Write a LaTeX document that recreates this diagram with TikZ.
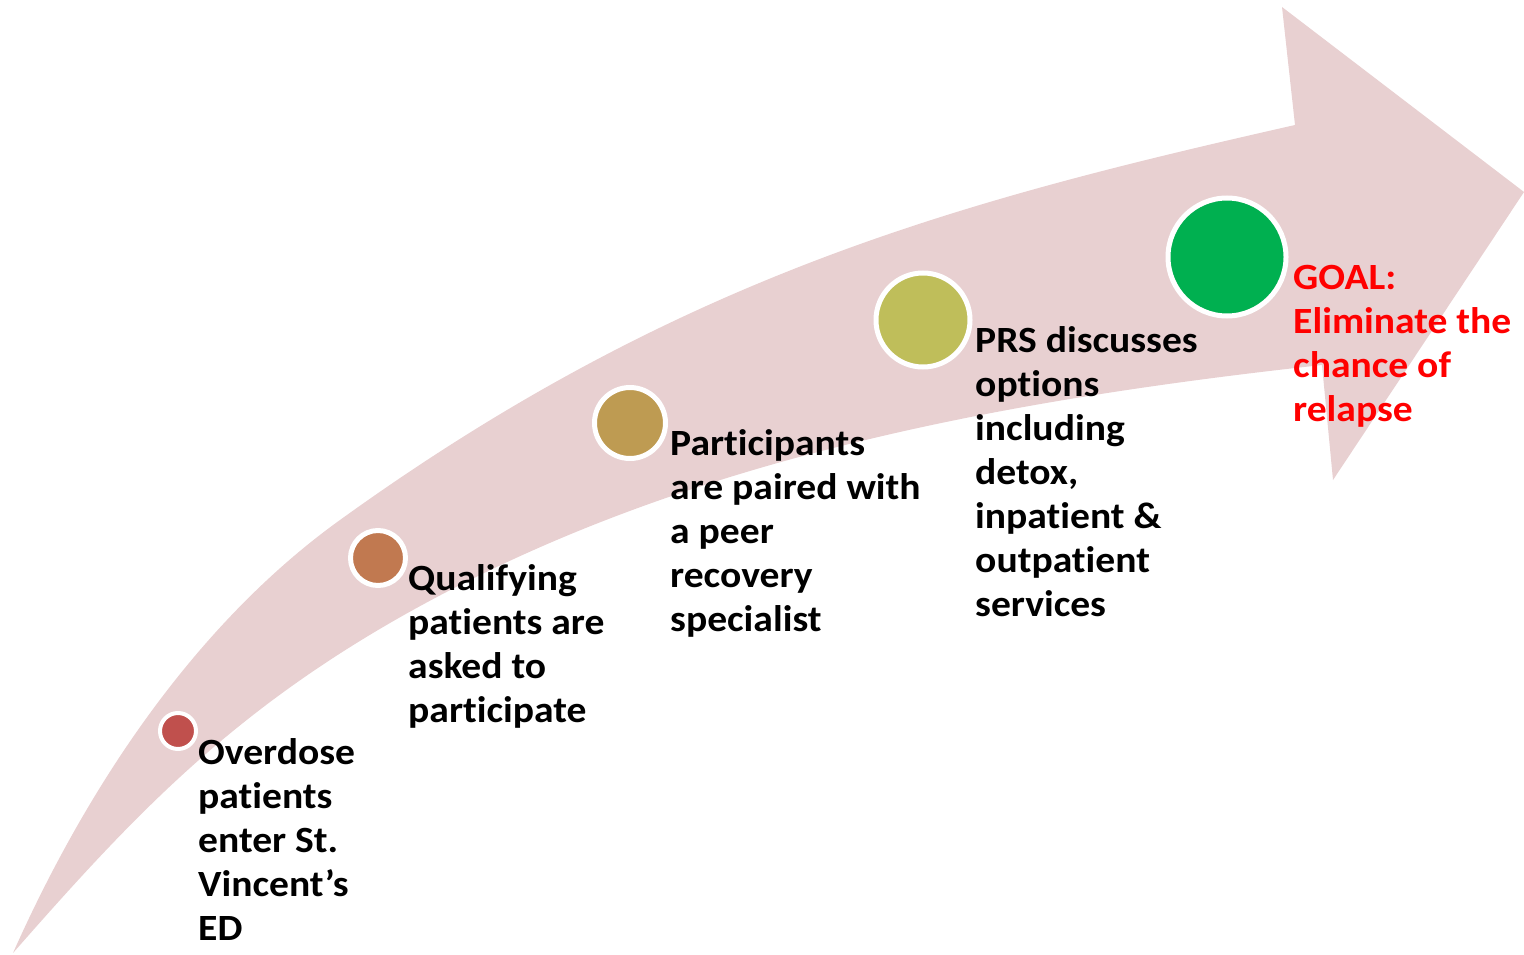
\documentclass[tikz,border=0pt]{standalone}
\usepackage{fontspec}
\setmainfont{Carlito}[FakeStretch=1.07, Ligatures={NoCommon}]
\definecolor{bandpink}{RGB}{232,208,209}
\definecolor{dotA}{RGB}{192,80,77}
\definecolor{dotB}{RGB}{193,121,80}
\definecolor{dotC}{RGB}{190,155,82}
\definecolor{dotD}{RGB}{191,190,90}
\definecolor{dotE}{RGB}{0,176,80}
\begin{document}
\begin{tikzpicture}[x=1pt, y=-1pt, inner sep=0pt,
    dot/.style={circle, draw=white, line width=5pt, fill=#1},
    txt/.style={anchor=north west, align=left, font=\bfseries\fontsize{37}{44}\selectfont}]
   \useasboundingbox (0,0) rectangle (1524,955);
   % curved band with its head
   \fill[bandpink] (13,953) .. controls (86,789) and (194,625) .. (340,520)
      .. controls (681,274) and (964,200) .. (1295,125)
      -- (1282,7) -- (1524,192) -- (1333,480) -- (1322,365)
      .. controls (1031,397) and (732,449) .. (470,580)
      .. controls (250,690) and (143,805) .. (13,953) -- cycle;
   \node[dot=dotA, line width=4pt, minimum size=36pt] (d1) at (178,731) {};
   \node[dot=dotB, minimum size=55pt] (d2) at (378,558) {};
   \node[dot=dotC, minimum size=71pt] (d3) at (630,423) {};
   \node[dot=dotD, minimum size=94pt] (d4) at (923,320) {};
   \node[dot=dotE, minimum size=118pt] (d5) at (1227,257) {};
   \node[txt] (t1) at (198,738) {Overdose\\patients\\enter St.\\Vincent’s\\ED};
   \node[txt] (t2) at (408,564) {Qualifying\\patients are\\asked to\\participate};
   \node[txt] (t3) at (670,429) {Participants\\are paired with\\a peer\\recovery\\specialist};
   \node[txt] (t4) at (975,326) {PRS discusses\\options\\including\\detox,\\inpatient \&\\outpatient\\services};
   \node[txt, text=red] (t5) at (1293,265) {GOAL:\\Eliminate the\\chance of\\relapse};
\end{tikzpicture}
\end{document}
